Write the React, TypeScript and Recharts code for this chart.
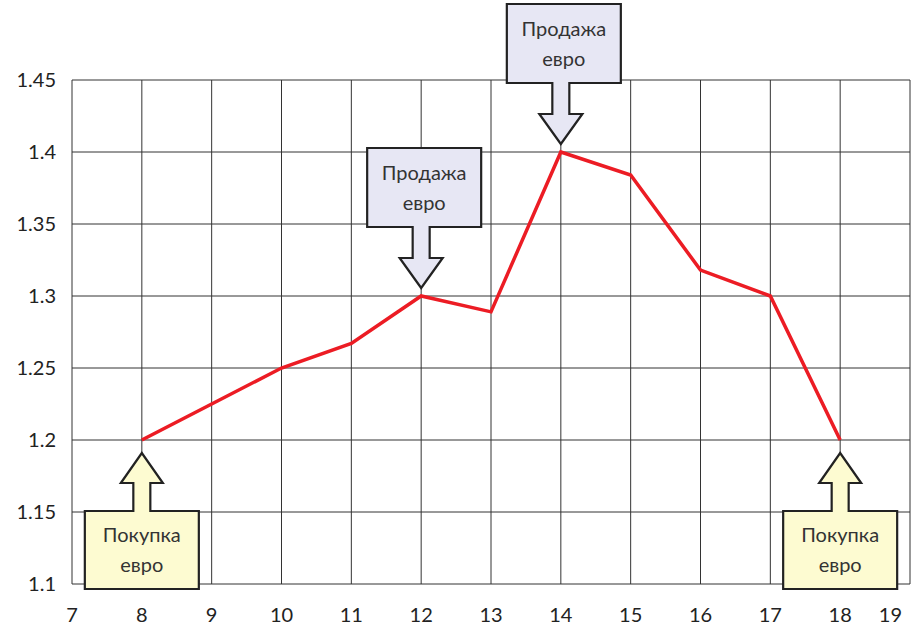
import React from 'react';
import { LineChart, Line, XAxis, YAxis, CartesianGrid, ReferenceDot } from 'recharts';

// EUR/USD rate by day
const days = [8, 9, 10, 11, 12, 13, 14, 15, 16, 17, 18];
const rates = [1.2, 1.225, 1.25, 1.267, 1.3, 1.289, 1.4, 1.384, 1.318, 1.3, 1.2];

const xTicks = [7, 8, 9, 10, 11, 12, 13, 14, 15, 16, 17, 18, 19];
const yTicks = [1.1, 1.15, 1.2, 1.25, 1.3, 1.35, 1.4, 1.45];

// callouts: where to buy / sell
const sellDays = [12, 14];
const buyDays = [8, 18];
const SELL_LABEL = ['Продажа', 'евро'];
const BUY_LABEL = ['Покупка', 'евро'];

const data = days.map((d, i) => ({ day: d, rate: rates[i] }));
const rateAt = (d: number) => rates[days.indexOf(d)];

const FONT = 'Lato, "Open Sans", sans-serif';
const LINE_RED = '#ec1c24';

function CalloutText({ x, y, lines }: { x: number; y: number; lines: string[] }) {
  return (
    <text x={x} textAnchor="middle" fontFamily={FONT} fontSize={20} fill="#333">
      <tspan x={x} y={y - 8}>{lines[0]}</tspan>
      <tspan x={x} y={y + 22}>{lines[1]}</tspan>
    </text>
  );
}

// box above the point, arrow pointing down at it
function SellCallout(props: any) {
  const { cx, cy } = props;
  const tip = cy - 8;
  const headBase = tip - 30;
  const boxBottom = headBase - 31;
  const boxTop = boxBottom - 79;
  const bx = cx + 3;
  const l = bx - 57;
  const r = bx + 57;
  const d = [
    `M${l},${boxTop}`, `L${r},${boxTop}`, `L${r},${boxBottom}`,
    `L${cx + 8.5},${boxBottom}`, `L${cx + 8.5},${headBase}`, `L${cx + 21.5},${headBase}`,
    `L${cx},${tip}`,
    `L${cx - 21.5},${headBase}`, `L${cx - 8.5},${headBase}`, `L${cx - 8.5},${boxBottom}`,
    `L${l},${boxBottom}`, 'Z',
  ].join(' ');
  return (
    <g>
      <path d={d} fill="#e7e7f4" stroke="#222" strokeWidth={2.2} strokeLinejoin="miter" />
      <CalloutText x={bx} y={(boxTop + boxBottom) / 2} lines={SELL_LABEL} />
    </g>
  );
}

// box below the point, arrow pointing up at it
function BuyCallout(props: any) {
  const { cx, cy } = props;
  const tip = cy + 13;
  const headBase = tip + 30;
  const boxTop = headBase + 28;
  const boxBottom = boxTop + 78;
  const l = cx - 57;
  const r = cx + 57;
  const d = [
    `M${l},${boxBottom}`, `L${r},${boxBottom}`, `L${r},${boxTop}`,
    `L${cx + 8.5},${boxTop}`, `L${cx + 8.5},${headBase}`, `L${cx + 21},${headBase}`,
    `L${cx},${tip}`,
    `L${cx - 21},${headBase}`, `L${cx - 8.5},${headBase}`, `L${cx - 8.5},${boxTop}`,
    `L${l},${boxTop}`, 'Z',
  ].join(' ');
  return (
    <g>
      <path d={d} fill="#fdfbd1" stroke="#222" strokeWidth={2.2} strokeLinejoin="miter" />
      <CalloutText x={cx} y={(boxTop + boxBottom) / 2} lines={BUY_LABEL} />
    </g>
  );
}

// last x label sits flush with the right edge instead of being cut
function XTick(props: any) {
  const { x, y, payload } = props;
  const last = payload.value === xTicks[xTicks.length - 1];
  return (
    <text
      x={last ? x - 1 : x}
      y={y}
      dy="0.71em"
      textAnchor={last ? 'end' : 'middle'}
      fontFamily={FONT}
      fontSize={20}
      fill="#222"
    >
      {payload.value}
    </text>
  );
}

export default function App() {
  return (
    <div style={{ position: 'absolute', left: 0, top: 0, width: 911, height: 628, background: '#fff' }}>
      <LineChart
        width={911}
        height={628}
        data={data}
        margin={{ top: 80, right: 1, bottom: 14, left: 12 }}
      >
        <CartesianGrid stroke="#333" strokeWidth={1} verticalValues={xTicks} horizontalValues={yTicks} />
        <XAxis
          dataKey="day"
          type="number"
          domain={[7, 19]}
          ticks={xTicks}
          height={30}
          axisLine={false}
          tickLine={false}
          tickMargin={18}
          tick={<XTick />}
        />
        <YAxis
          type="number"
          domain={[1.1, 1.45]}
          ticks={yTicks}
          width={60}
          axisLine={false}
          tickLine={false}
          tickMargin={10}
          tick={{ fontFamily: FONT, fontSize: 20, fill: '#222' }}
        />
        <Line
          type="linear"
          dataKey="rate"
          stroke={LINE_RED}
          strokeWidth={3.5}
          dot={false}
          activeDot={false}
          isAnimationActive={false}
        />
        {sellDays.map((d) => (
          <ReferenceDot key={`s${d}`} x={d} y={rateAt(d)} ifOverflow="visible" shape={SellCallout} />
        ))}
        {buyDays.map((d) => (
          <ReferenceDot key={`b${d}`} x={d} y={rateAt(d)} ifOverflow="visible" shape={BuyCallout} />
        ))}
      </LineChart>
    </div>
  );
}
